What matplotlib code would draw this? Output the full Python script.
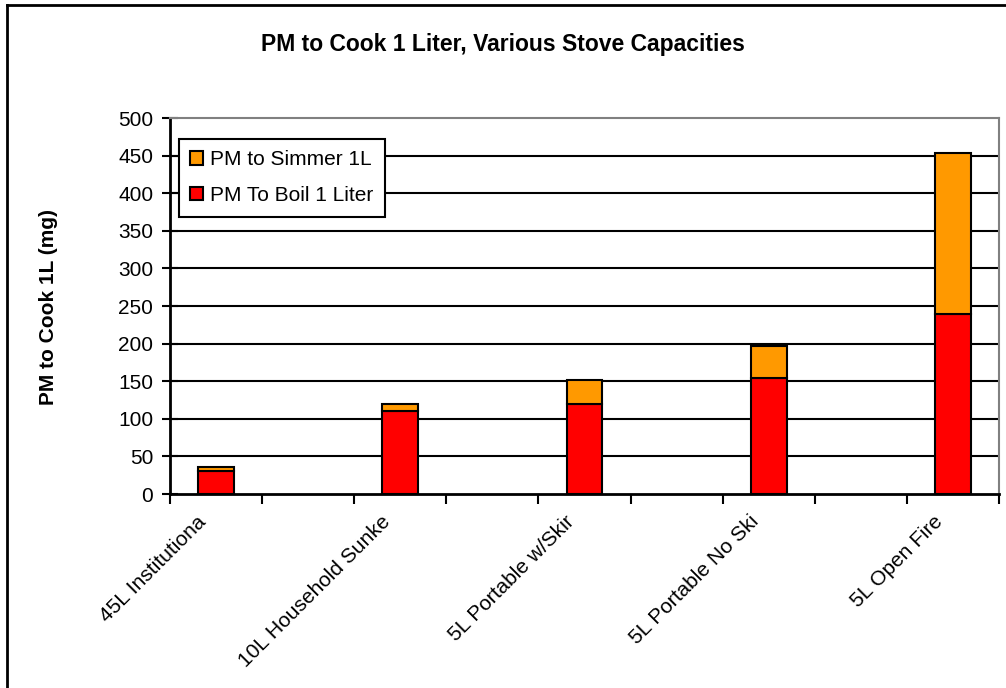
import matplotlib
matplotlib.use("Agg")
import matplotlib.pyplot as plt
from matplotlib.lines import Line2D
from matplotlib.transforms import ScaledTranslation
import numpy as np

# Stove types (labels as displayed on the axis) and PM values in mg
stoves = ["45L Institutiona", "10L Household Sunke", "5L Portable w/Skir",
          "5L Portable No Ski", "5L Open Fire"]
pm_boil = [31, 111, 120, 154, 239]
pm_simmer = [5, 9, 32, 43, 214]
n_slots = 9  # bars occupy every other category slot
y_ticks = [0, 50, 100, 150, 200, 250, 300, 350, 400, 450, 500]

RED = "#FF0000"
ORANGE = "#FF9900"
FS = 15

plt.rcParams["font.family"] = ["Liberation Sans", "DejaVu Sans"]

W, H = 1006, 688
fig = plt.figure(figsize=(W / 100, H / 100), dpi=100)
fig.patch.set_facecolor("white")

left, right, top, bottom = 170, 999, 118, 494
ax = fig.add_axes([left / W, 1 - bottom / H, (right - left) / W, (bottom - top) / H])

x = np.arange(len(stoves)) * 2
bw = 0.39
b1 = ax.bar(x, pm_boil, width=bw, color=RED, edgecolor="black", linewidth=1.5,
            label="PM To Boil 1 Liter", zorder=3)
b2 = ax.bar(x, pm_simmer, width=bw, bottom=pm_boil, color=ORANGE, edgecolor="black",
            linewidth=1.5, label="PM to Simmer 1L", zorder=3)

ax.set_xlim(-0.5, n_slots - 0.5)
ax.set_ylim(0, 500)
ax.set_yticks(y_ticks)
ax.set_yticklabels([str(v) for v in y_ticks], fontsize=FS)
ax.tick_params(axis="y", direction="inout", length=12, width=1.5, pad=6)

# category boundaries as tick marks, labels on the bar centres
ax.set_xticks(np.arange(-0.5, n_slots, 1.0))
ax.set_xticklabels([])
ax.tick_params(axis="x", which="major", direction="out", length=7, width=1.5)
ax.set_xticks(x, minor=True)
ax.set_xticklabels(stoves, minor=True, fontsize=FS, rotation=45,
                   ha="right", va="top", rotation_mode="anchor")
ax.tick_params(axis="x", which="minor", length=0, pad=13)
for lbl in ax.get_xticklabels(minor=True):
    lbl.set_transform(lbl.get_transform() + ScaledTranslation(-0.2, 0, fig.dpi_scale_trans))

for yv in y_ticks[1:-1]:
    ax.axhline(yv, color="black", linewidth=1.5, zorder=1)

ax.spines["left"].set_color("black")
ax.spines["left"].set_linewidth(2)
ax.spines["bottom"].set_color("black")
ax.spines["bottom"].set_linewidth(2)
ax.spines["top"].set_color("#808080")
ax.spines["top"].set_linewidth(1.5)
ax.spines["right"].set_color("#808080")
ax.spines["right"].set_linewidth(1.5)

ax.set_ylabel("PM to Cook 1L (mg)", fontsize=FS, fontweight="bold")
ax.yaxis.set_label_coords(58 / W, 1 - 307 / H, transform=fig.transFigure)

fig.text(503 / W, 1 - 45 / H, "PM to Cook 1 Liter, Various Stove Capacities",
         ha="center", va="center", fontsize=16.5, fontweight="bold")

leg = fig.legend(handles=[b2, b1], labels=["PM to Simmer 1L", "PM To Boil 1 Liter"],
                 loc="upper left", bbox_to_anchor=(179 / W, 1 - 139 / H),
                 borderaxespad=0, fontsize=FS, frameon=True, fancybox=False,
                 framealpha=1, handlelength=0.6, handleheight=0.6, handletextpad=0.35,
                 borderpad=0.55, labelspacing=0.8)
leg.get_frame().set_edgecolor("black")
leg.get_frame().set_linewidth(1.5)

# outer chart frame (left and top edges fall inside the image)
fig.add_artist(Line2D([7 / W, 7 / W], [0, 1 - 5 / H], color="black", linewidth=2,
                      transform=fig.transFigure))
fig.add_artist(Line2D([7 / W, 1], [1 - 5 / H, 1 - 5 / H], color="black", linewidth=2,
                      transform=fig.transFigure))

fig.savefig("out.png", dpi=100, facecolor="white")
